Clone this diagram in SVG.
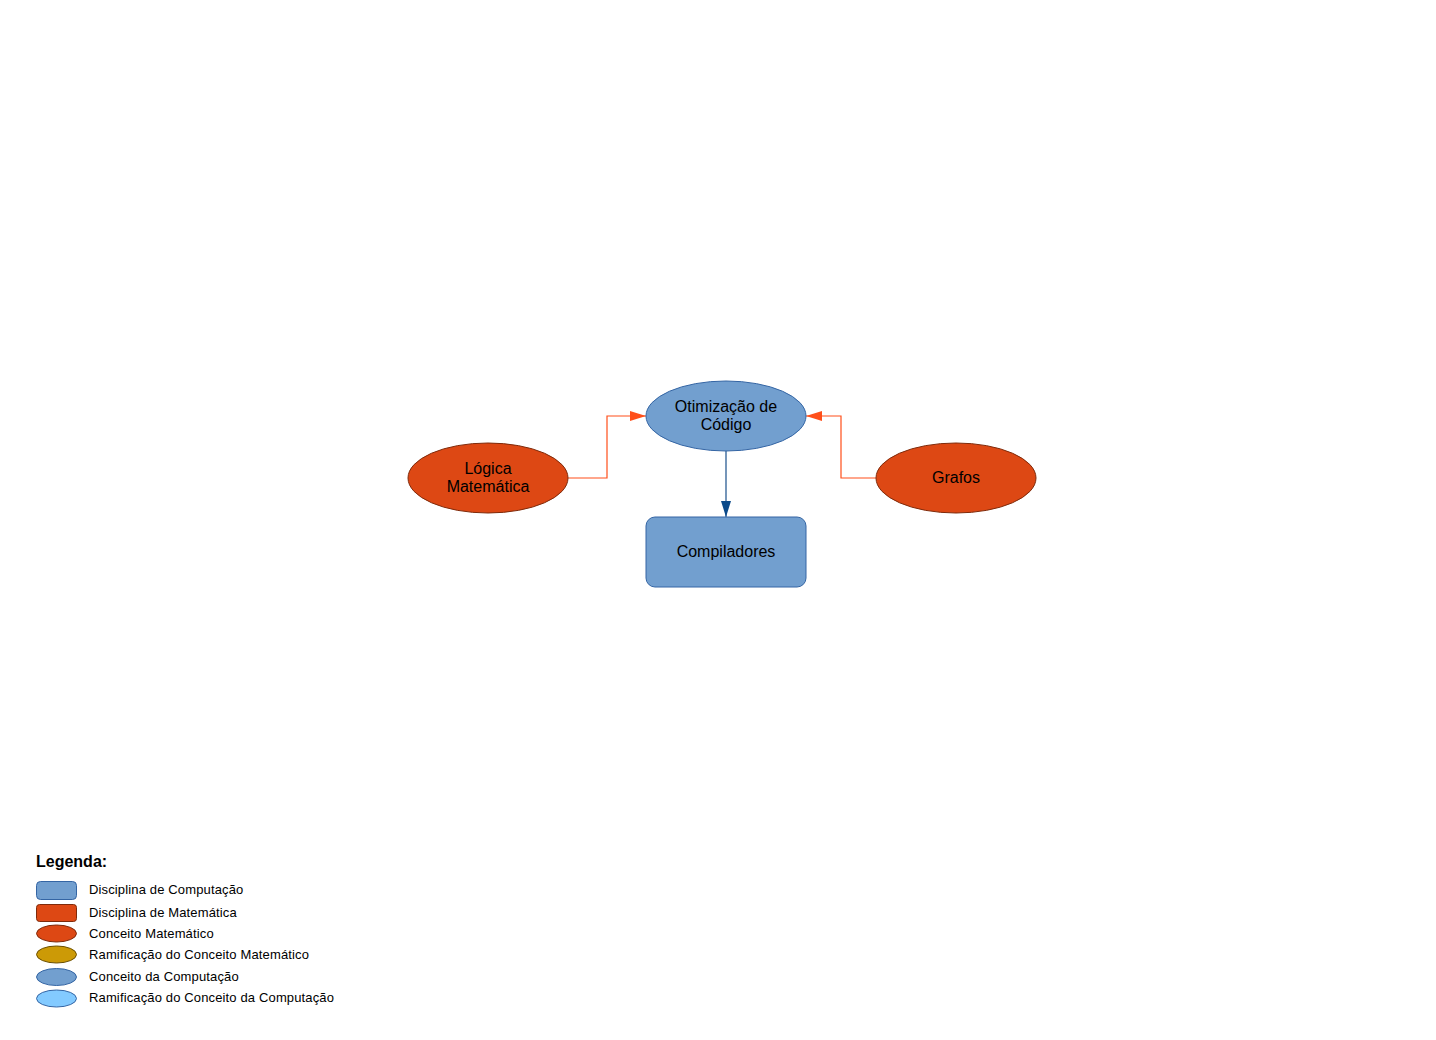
<svg xmlns="http://www.w3.org/2000/svg" width="1436" height="1040" viewBox="0 0 1436 1040">
<style>
text{font-family:"Liberation Sans",Arial,sans-serif;fill:#000}
.n{font-size:16px;text-anchor:middle}
.blue{fill:#729fcf;stroke:#3465a4;stroke-width:1}
.org{fill:#dd4814;stroke:#7f2a0a;stroke-width:1}
.gold{fill:#cc9a06;stroke:#6b4f00;stroke-width:1}
.lblue{fill:#83caff;stroke:#3465a4;stroke-width:1}
.lg{font-size:13px;letter-spacing:0.14px}
.ec{fill:none;stroke:#ff4f1a;stroke-width:1.2}
.eb{fill:none;stroke:#1a4f8a;stroke-width:1.2}
</style>
<defs>
<marker id="ao" viewBox="0 0 16 10" refX="16" refY="5" markerWidth="16" markerHeight="10" markerUnits="userSpaceOnUse" orient="auto"><path d="M0,0 L16,5 L0,10 Z" fill="#ff4f1a"/></marker>
<marker id="ab" viewBox="0 0 10 16" refX="5" refY="16" markerWidth="10" markerHeight="16" markerUnits="userSpaceOnUse" orient="0"><path d="M0,0 L10,0 L5,16 Z" fill="#0b4a8a"/></marker>
</defs>
<rect width="1436" height="1040" fill="#fff"/>
<g id="connectors">
<path class="ec" d="M568,478 H607 V416 H646" marker-end="url(#ao)"/>
<path class="ec" d="M876,478 H841 V416 H806" marker-end="url(#ao)"/>
<path class="eb" d="M726,451 V517" marker-end="url(#ab)"/>
</g>
<g id="otimizacao">
<ellipse class="blue" cx="726" cy="416" rx="80" ry="35"/>
<text class="n" x="726" y="412">Otimização de</text>
<text class="n" x="726" y="430">Código</text>
</g>
<g id="logica">
<ellipse class="org" cx="488" cy="478" rx="80" ry="35"/>
<text class="n" x="488" y="474">Lógica</text>
<text class="n" x="488" y="492">Matemática</text>
</g>
<g id="grafos">
<ellipse class="org" cx="956" cy="478" rx="80" ry="35"/>
<text class="n" x="956" y="483">Grafos</text>
</g>
<g id="compiladores">
<rect class="blue" x="646" y="517" width="160" height="70" rx="9"/>
<text class="n" x="726" y="557">Compiladores</text>
</g>
<g id="legenda">
<text x="36" y="867" font-size="16" font-weight="bold">Legenda:</text>
<rect class="blue" x="36.5" y="881.5" width="40" height="18" rx="4"/>
<text class="lg" x="89" y="894">Disciplina de Computação</text>
<rect class="org" x="36.5" y="904.5" width="40" height="17" rx="3"/>
<text class="lg" x="89" y="917">Disciplina de Matemática</text>
<ellipse class="org" cx="56.5" cy="933.5" rx="20" ry="8.5"/>
<text class="lg" x="89" y="938">Conceito Matemático</text>
<ellipse class="gold" cx="56.5" cy="954.5" rx="20" ry="8.5"/>
<text class="lg" x="89" y="959">Ramificação do Conceito Matemático</text>
<ellipse class="blue" cx="56.5" cy="977" rx="20" ry="8.5"/>
<text class="lg" x="89" y="981">Conceito da Computação</text>
<ellipse class="lblue" cx="56.5" cy="998.5" rx="20" ry="8.5"/>
<text class="lg" x="89" y="1002">Ramificação do Conceito da Computação</text>
</g>
</svg>
